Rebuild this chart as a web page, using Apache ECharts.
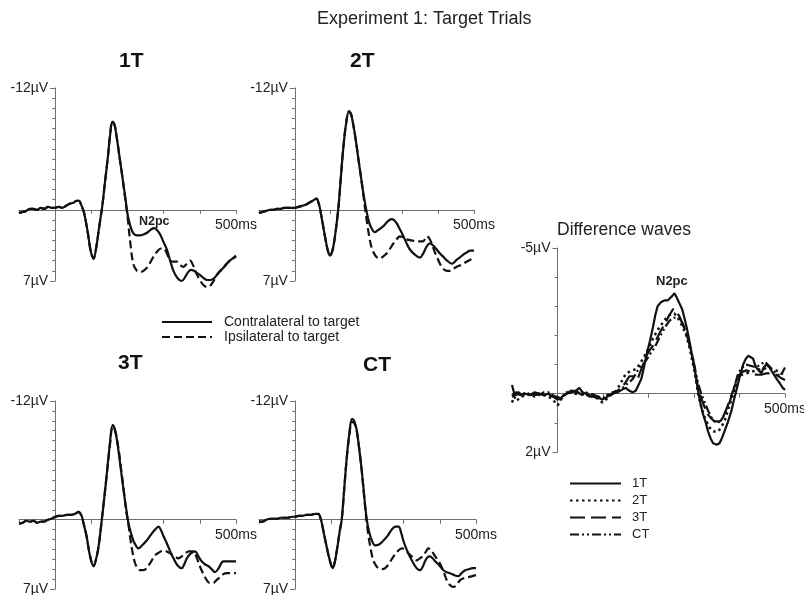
<!DOCTYPE html>
<html>
<head>
<meta charset="utf-8">
<script src="https://cdn.jsdelivr.net/npm/echarts@6/dist/echarts.min.js"></script>
<style>html,body{margin:0;padding:0;background:#fff;}#c{width:804px;height:595px;}</style>
</head>
<body>
<div id="c"></div>
<script>
// ---------- data ----------
const panelNames = ['1T', '2T', '3T', 'CT'];
const waveNames = ['Contralateral to target', 'Ipsilateral to target'];
const diffNames = ['1T', '2T', '3T', 'CT'];
const timeRange = [-100, 500];          // ms
const panelVoltRange = [-12, 7];        // µV (negative up)
const diffVoltRange = [-5, 2];          // µV (negative up)
const timeUnit = 'ms';
const voltUnit = 'µV';

const contra1T = [[-100,0.3],[-90,0.2],[-80,0.1],[-70,-0.1],[-60,-0.1],[-50,0.0],[-40,-0.2],[-30,-0.1],[-20,-0.3],[-10,-0.2],[0,-0.2],[10,-0.3],[20,-0.2],[30,-0.4],[40,-0.6],[50,-0.7],[60,-0.9],[66,-0.9],[72,-0.5],[80,0.3],[90,2.2],[98,4.0],[106,4.8],[114,3.6],[122,1.6],[130,-0.3],[138,-2.8],[146,-5.3],[152,-7.4],[158,-8.7],[164,-8.4],[170,-7.2],[178,-5.2],[186,-3.2],[194,-1.2],[200,0.4],[208,1.6],[216,2.3],[226,2.5],[236,2.5],[246,2.4],[256,2.2],[266,1.9],[274,1.8],[282,2.0],[290,2.4],[300,3.2],[309,3.9],[318,5.0],[327,6.0],[338,6.7],[350,7.0],[358,6.7],[368,6.1],[376,5.9],[384,6.0],[392,6.2],[400,6.4],[410,6.7],[420,6.9],[430,6.9],[440,6.7],[456,6.0],[468,5.6],[479,5.1],[490,4.8],[500,4.5]];
const ipsi1T = [[-100,0.3],[-90,0.2],[-80,0.1],[-70,-0.1],[-60,-0.1],[-50,0.0],[-40,-0.2],[-30,-0.1],[-20,-0.3],[-10,-0.2],[0,-0.2],[10,-0.3],[20,-0.2],[30,-0.4],[40,-0.6],[50,-0.7],[60,-0.9],[66,-0.9],[72,-0.5],[80,0.3],[90,2.2],[98,4.0],[106,4.8],[114,3.6],[122,1.6],[130,-0.3],[138,-2.8],[146,-5.3],[152,-7.4],[158,-8.7],[164,-8.4],[170,-7.2],[178,-5.2],[186,-3.2],[194,-1.0],[200,0.6],[207,3.0],[216,5.3],[226,6.0],[236,6.1],[244,6.0],[256,5.6],[264,5.1],[272,4.6],[282,4.1],[292,3.8],[300,3.8],[309,4.3],[318,5.0],[327,5.1],[336,5.1],[345,5.4],[354,5.6],[364,5.3],[373,5.0],[382,5.5],[391,6.3],[400,6.9],[410,7.4],[420,7.6],[428,7.5],[438,7.0],[447,6.4],[460,5.9],[474,5.3],[488,4.9],[500,4.6]];

const contra2T = [[-100,0.3],[-90,0.2],[-80,0.1],[-70,0.0],[-60,0.0],[-50,-0.1],[-40,-0.1],[-30,-0.2],[-20,-0.2],[-10,-0.2],[0,-0.2],[10,-0.3],[20,-0.4],[30,-0.5],[40,-0.7],[50,-0.9],[60,-1.1],[67,-0.6],[74,0.6],[84,2.6],[92,4.0],[98,4.5],[105,4.0],[112,2.6],[121,0.0],[128,-3.0],[135,-6.0],[143,-8.5],[151,-9.7],[157,-9.4],[163,-8.4],[170,-6.9],[177,-5.1],[184,-3.4],[191,-1.7],[200,0.1],[207,1.2],[214,1.8],[223,2.2],[232,2.0],[247,1.6],[260,1.1],[270,0.9],[277,1.0],[284,1.3],[293,1.9],[303,2.6],[312,3.3],[321,3.9],[335,4.4],[349,4.7],[358,4.3],[368,3.6],[377,3.3],[386,3.5],[396,3.9],[405,4.3],[414,4.6],[425,5.0],[438,5.3],[452,4.9],[460,4.7],[470,4.4],[480,4.2],[489,4.0],[500,4.0]];
const ipsi2T = [[-100,0.3],[-90,0.2],[-80,0.1],[-70,0.0],[-60,0.0],[-50,-0.1],[-40,-0.1],[-30,-0.2],[-20,-0.2],[-10,-0.2],[0,-0.2],[10,-0.3],[20,-0.4],[30,-0.5],[40,-0.7],[50,-0.9],[60,-1.1],[67,-0.6],[74,0.6],[84,2.6],[92,4.0],[98,4.5],[105,4.0],[112,2.6],[121,0.0],[128,-3.0],[135,-6.0],[143,-8.5],[151,-9.7],[157,-9.4],[163,-8.4],[170,-6.9],[177,-5.1],[184,-3.4],[191,-1.5],[200,0.9],[209,2.9],[216,3.9],[223,4.4],[230,4.7],[237,4.8],[246,4.6],[256,4.3],[266,3.8],[275,3.3],[284,2.9],[293,2.6],[302,2.7],[312,2.9],[326,3.0],[340,3.1],[350,3.1],[358,3.1],[364,2.8],[368,2.6],[375,2.8],[382,3.3],[389,4.0],[396,4.6],[405,5.3],[414,5.8],[424,6.0],[433,6.0],[442,5.8],[452,5.6],[465,5.4],[479,5.1],[490,4.9],[500,4.8]];

const contra3T = [[-100,0.4],[-90,0.3],[-80,0.1],[-70,0.2],[-60,0.1],[-50,0.3],[-40,0.2],[-32,0.2],[-20,0.0],[-10,-0.1],[0,-0.3],[10,-0.4],[20,-0.4],[32,-0.5],[45,-0.5],[55,-0.6],[65,-0.8],[70,-0.6],[74,-0.3],[80,0.6],[87,1.7],[96,3.6],[106,4.7],[113,4.0],[120,2.7],[129,0.0],[136,-2.3],[143,-4.7],[151,-7.6],[159,-9.6],[166,-9.0],[175,-7.0],[182,-5.0],[189,-3.0],[196,-1.2],[203,0.4],[210,1.4],[216,2.1],[223,2.6],[230,2.9],[240,2.6],[253,2.1],[265,1.5],[276,1.0],[286,0.7],[293,1.1],[300,1.7],[309,2.4],[318,3.2],[327,3.9],[338,4.6],[350,4.9],[357,4.5],[364,3.9],[375,3.4],[387,3.2],[396,3.7],[405,4.2],[414,4.5],[424,4.7],[433,5.0],[442,5.3],[452,4.9],[465,4.2],[480,4.2],[490,4.2],[500,4.2]];
const ipsi3T = [[-100,0.4],[-90,0.3],[-80,0.1],[-70,0.2],[-60,0.1],[-50,0.3],[-40,0.2],[-32,0.2],[-20,0.0],[-10,-0.1],[0,-0.3],[10,-0.4],[20,-0.4],[32,-0.5],[45,-0.5],[55,-0.6],[65,-0.8],[70,-0.6],[74,-0.3],[80,0.6],[87,1.7],[96,3.6],[106,4.7],[113,4.0],[120,2.7],[129,0.0],[136,-2.3],[143,-4.7],[151,-7.4],[159,-9.4],[166,-9.0],[175,-7.2],[182,-5.2],[189,-3.2],[196,-1.0],[203,0.6],[207,1.7],[214,3.3],[221,4.4],[228,4.9],[235,5.1],[244,5.1],[253,4.9],[264,4.3],[276,3.6],[288,3.3],[299,3.1],[308,3.2],[318,3.4],[330,3.7],[341,3.9],[350,3.7],[359,3.4],[370,3.2],[382,3.2],[391,3.8],[400,4.7],[410,5.5],[419,6.1],[428,6.4],[437,6.4],[446,6.1],[456,5.8],[465,5.5],[474,5.4],[487,5.4],[500,5.4]];

const contraCT = [[-100,0.2],[-90,0.2],[-80,0.0],[-70,-0.1],[-60,-0.1],[-50,-0.1],[-40,-0.2],[-30,-0.2],[-20,-0.2],[-10,-0.3],[0,-0.3],[10,-0.4],[20,-0.4],[32,-0.5],[45,-0.5],[55,-0.6],[64,-0.6],[69,-0.3],[74,0.4],[80,1.5],[87,2.7],[95,4.0],[104,4.9],[110,4.2],[117,2.7],[123,1.2],[129,-0.1],[136,-3.3],[143,-6.4],[150,-8.8],[157,-10.2],[163,-10.0],[170,-9.1],[177,-7.2],[184,-5.0],[191,-2.4],[198,0.0],[205,1.3],[212,2.1],[221,2.6],[232,2.5],[244,2.1],[256,1.6],[267,1.0],[277,0.7],[286,0.7],[293,1.3],[299,2.1],[308,3.0],[318,3.8],[327,4.4],[336,4.9],[345,5.1],[352,4.8],[359,4.2],[366,3.8],[373,3.7],[380,3.9],[387,4.2],[398,4.6],[410,5.1],[419,5.3],[428,5.4],[440,5.6],[451,5.7],[460,5.4],[470,5.1],[480,5.0],[490,4.9],[500,4.9]];
const ipsiCT = [[-100,0.2],[-90,0.2],[-80,0.0],[-70,-0.1],[-60,-0.1],[-50,-0.1],[-40,-0.2],[-30,-0.2],[-20,-0.2],[-10,-0.3],[0,-0.3],[10,-0.4],[20,-0.4],[32,-0.5],[45,-0.5],[55,-0.6],[64,-0.6],[69,-0.3],[74,0.4],[80,1.5],[87,2.7],[95,4.0],[104,4.9],[110,4.2],[117,2.7],[123,1.2],[129,-0.1],[136,-3.3],[143,-6.4],[150,-8.6],[157,-9.9],[163,-9.8],[170,-9.0],[177,-7.2],[184,-5.0],[191,-2.2],[198,0.3],[203,1.7],[210,3.2],[216,4.1],[223,4.6],[230,4.9],[240,5.0],[249,4.9],[260,4.4],[272,3.7],[283,3.2],[295,2.9],[304,3.0],[313,3.4],[325,3.8],[336,4.1],[345,3.9],[355,3.6],[362,3.2],[368,2.9],[375,3.0],[382,3.4],[391,3.9],[400,4.4],[410,5.2],[419,6.1],[428,6.6],[437,6.8],[446,6.6],[456,6.1],[467,5.9],[479,5.8],[490,5.7],[500,5.6]];

const diff1T = [[-100,-0.3],[-95,0.0],[-90,0.05],[-85,-0.05],[-80,0.05],[-70,0.0],[-60,0.05],[-50,-0.05],[-40,0.0],[-30,0.05],[-20,0.0],[-10,0.1],[0,0.1],[5,0.2],[10,0.1],[20,0.0],[30,-0.05],[40,-0.1],[48,-0.2],[55,-0.05],[62,0.0],[70,0.1],[80,0.1],[90,0.15],[99,0.2],[110,0.1],[121,0.0],[132,-0.05],[143,-0.15],[150,-0.2],[158,-0.1],[165,-0.05],[172,-0.1],[178,-0.3],[184,-0.5],[190,-0.9],[195,-1.3],[203,-1.8],[210,-2.3],[215,-2.7],[220,-3.0],[228,-3.15],[235,-3.2],[242,-3.2],[246,-3.25],[252,-3.35],[257,-3.45],[262,-3.3],[268,-3.1],[274,-2.9],[279,-2.6],[285,-2.2],[290,-1.8],[296,-1.3],[301,-0.9],[305,-0.5],[309,-0.1],[315,0.4],[320,0.7],[326,1.0],[331,1.3],[337,1.55],[342,1.7],[350,1.75],[356,1.7],[362,1.5],[368,1.25],[375,0.95],[382,0.6],[388,0.2],[393,-0.1],[400,-0.55],[408,-1.0],[414,-1.2],[419,-1.3],[425,-1.25],[430,-1.2],[434,-1.0],[437,-0.9],[442,-0.8],[448,-0.7],[453,-0.9],[459,-1.0],[466,-0.9],[474,-0.7],[482,-0.5],[489,-0.35],[495,-0.2],[500,-0.13]];
const diff2T = [[-100,0.3],[-95,0.1],[-90,0.25],[-80,0.1],[-70,0.05],[-60,0.0],[-50,0.1],[-40,0.0],[-30,0.05],[-20,0.1],[-10,0.2],[0,0.4],[5,0.3],[10,0.1],[20,0.0],[30,-0.05],[40,0.0],[50,0.05],[60,-0.05],[70,0.0],[80,0.05],[90,0.2],[99,0.3],[110,0.15],[121,0.0],[129,-0.1],[137,-0.3],[145,-0.55],[151,-0.7],[158,-0.75],[165,-0.8],[173,-0.85],[180,-1.0],[188,-1.2],[195,-1.4],[203,-1.65],[210,-1.9],[217,-2.1],[225,-2.3],[232,-2.45],[239,-2.6],[246,-2.7],[252,-2.75],[257,-2.75],[263,-2.65],[268,-2.5],[275,-2.3],[283,-2.0],[290,-1.6],[298,-1.0],[303,-0.6],[309,0.0],[316,0.45],[323,0.8],[330,1.05],[338,1.25],[345,1.3],[353,1.3],[360,1.15],[368,0.9],[375,0.55],[382,0.2],[390,-0.15],[397,-0.5],[405,-0.65],[415,-0.7],[425,-0.75],[437,-0.8],[448,-0.85],[459,-0.87],[470,-0.85],[481,-0.8],[490,-0.7],[500,-0.65]];
const diff3T = [[-100,0.1],[-90,0.0],[-80,0.05],[-70,-0.05],[-60,0.05],[-50,0.0],[-40,0.05],[-30,-0.05],[-20,0.05],[-10,0.1],[0,0.2],[10,0.15],[20,0.0],[30,-0.1],[40,-0.1],[50,0.0],[60,0.05],[70,0.05],[80,0.1],[90,0.15],[99,0.1],[110,0.05],[121,0.0],[132,-0.1],[143,-0.25],[150,-0.4],[158,-0.6],[165,-0.6],[171,-0.55],[176,-0.5],[182,-0.75],[188,-1.0],[195,-1.3],[203,-1.5],[210,-1.65],[217,-1.85],[225,-2.1],[232,-2.3],[239,-2.5],[246,-2.7],[254,-2.9],[260,-2.85],[268,-2.65],[275,-2.4],[283,-2.1],[290,-1.7],[298,-1.15],[303,-0.7],[309,-0.2],[316,0.15],[323,0.45],[330,0.7],[338,0.85],[345,0.95],[349,1.0],[356,0.95],[364,0.8],[372,0.5],[379,0.2],[388,-0.2],[397,-0.6],[406,-0.75],[415,-0.8],[426,-0.75],[437,-0.65],[448,-0.65],[459,-0.7],[470,-0.7],[481,-0.65],[490,-0.55],[500,-0.47]];
const diffCT = [[-100,0.05],[-90,-0.05],[-80,0.0],[-70,0.05],[-60,-0.05],[-50,0.05],[-40,0.0],[-30,0.0],[-20,-0.05],[-10,0.05],[0,0.15],[10,0.1],[20,-0.05],[30,-0.1],[40,-0.05],[50,0.0],[60,0.05],[70,0.0],[80,0.05],[90,0.1],[99,0.15],[110,0.05],[121,-0.05],[132,-0.1],[143,-0.2],[150,-0.3],[158,-0.4],[165,-0.5],[173,-0.7],[180,-0.9],[188,-1.0],[195,-1.15],[203,-1.35],[210,-1.5],[217,-1.7],[225,-1.95],[232,-2.15],[239,-2.35],[246,-2.5],[254,-2.6],[261,-2.62],[268,-2.6],[275,-2.4],[283,-2.1],[290,-1.7],[298,-1.2],[303,-0.8],[309,-0.35],[316,0.0],[323,0.27],[330,0.55],[338,0.8],[345,0.95],[353,1.0],[360,0.9],[368,0.7],[375,0.45],[382,0.1],[390,-0.3],[397,-0.7],[406,-0.9],[415,-1.0],[426,-0.95],[437,-0.9],[446,-1.0],[456,-1.1],[465,-0.95],[474,-0.8],[482,-0.7],[489,-0.6],[495,-0.75],[500,-0.9]];

const panelContra = [contra1T, contra2T, contra3T, contraCT];
const panelIpsi = [ipsi1T, ipsi2T, ipsi3T, ipsiCT];
const diffData = [diff1T, diff2T, diff3T, diffCT];

// ---------- layout / style ----------
const FONT = 'Liberation Sans, Arial, sans-serif';
const INK = '#111';
const AXIS = '#6e6e6e';
const gridBoxes = [
  {left: 19, top: 88, width: 217, height: 193},
  {left: 259, top: 88, width: 215, height: 193},
  {left: 19, top: 401, width: 217, height: 188},
  {left: 259, top: 401, width: 217, height: 188},
  {left: 512, top: 248, width: 273, height: 204}
];
const panelTitlePos = [[119, 51], [350, 51], [118, 353], [363, 355]];
const diffStyles = [
  {type: 'solid', width: 2.2},
  {type: [2.5, 3.5], width: 2.5},
  {type: [15, 6], width: 2.2},
  {type: [9, 3, 2, 3, 2, 3], width: 2.2}
];

const grid = gridBoxes.map(b => Object.assign({outerBoundsMode: 'none', containLabel: false}, b));

// axes sit on the zero of the other axis; shift them there with offsets
function makeX(i, vRange) {
  const b = gridBoxes[i];
  const zeroFromBottom = (vRange[1] - 0) / (vRange[1] - vRange[0]) * b.height;
  return {
    gridIndex: i, type: 'value', min: timeRange[0], max: timeRange[1], interval: 100,
    position: 'bottom', offset: -zeroFromBottom,
    splitLine: {show: false},
    axisLine: {onZero: false, lineStyle: {color: AXIS, width: 1}},
    axisTick: {show: true, length: 4, lineStyle: {color: AXIS}},
    axisLabel: {
      margin: 8, color: '#222', fontSize: 14, fontFamily: FONT,
      formatter: v => (v === timeRange[1] ? v + timeUnit : '')
    }
  };
}
function makeY(i, range) {
  const b = gridBoxes[i];
  const zeroFromLeft = (0 - timeRange[0]) / (timeRange[1] - timeRange[0]) * b.width;
  return {
    gridIndex: i, type: 'value', inverse: true, min: range[0], max: range[1],
    interval: range[1] - range[0],
    position: 'left', offset: -zeroFromLeft,
    splitLine: {show: false},
    axisLine: {onZero: false, lineStyle: {color: AXIS, width: 1}},
    axisTick: {show: true, length: 5, lineStyle: {color: AXIS}},
    minorTick: {show: true, splitNumber: range[1] - range[0], length: 3, lineStyle: {color: AXIS}},
    minorSplitLine: {show: false},
    axisLabel: {
      margin: 7, color: '#222', fontSize: 14, fontFamily: FONT,
      formatter: v => v + voltUnit
    }
  };
}

const xAxis = [], yAxis = [], series = [];
for (let i = 0; i < 4; i++) {
  xAxis.push(makeX(i, panelVoltRange));
  yAxis.push(makeY(i, panelVoltRange));
  series.push({
    name: waveNames[0], type: 'line', xAxisIndex: i, yAxisIndex: i,
    data: panelContra[i], showSymbol: false, symbol: 'none', smooth: 0.35, clip: false,
    lineStyle: {color: INK, width: 2.2, type: 'solid'}, itemStyle: {color: INK}, z: 3
  });
  series.push({
    name: waveNames[1], type: 'line', xAxisIndex: i, yAxisIndex: i,
    data: panelIpsi[i], showSymbol: false, symbol: 'none', smooth: 0.35, clip: false,
    lineStyle: {color: INK, width: 2.2, type: [8, 4]}, itemStyle: {color: INK}, z: 2
  });
}
xAxis.push(makeX(4, diffVoltRange));
yAxis.push(makeY(4, diffVoltRange));
for (let k = 0; k < 4; k++) {
  series.push({
    name: diffNames[k], type: 'line', xAxisIndex: 4, yAxisIndex: 4,
    data: diffData[k], showSymbol: false, symbol: 'none', clip: false,
    lineStyle: Object.assign({color: INK}, diffStyles[k]), itemStyle: {color: INK}
  });
}

const title = [
  {text: 'Experiment 1: Target Trials', left: 317, top: 10, padding: 0,
   textStyle: {fontFamily: FONT, fontSize: 18, fontWeight: 'normal', color: '#222'}},
  {text: 'Difference waves', left: 557, top: 221, padding: 0,
   textStyle: {fontFamily: FONT, fontSize: 17.5, fontWeight: 'normal', color: '#222'}},
  {text: 'N2pc', left: 139, top: 215, padding: 0,
   textStyle: {fontFamily: FONT, fontSize: 12.5, fontWeight: 'bold', color: '#222'}},
  {text: 'N2pc', left: 656, top: 275, padding: 0,
   textStyle: {fontFamily: FONT, fontSize: 13, fontWeight: 'bold', color: '#222'}}
];
panelNames.forEach((n, i) => title.push({
  text: n, left: panelTitlePos[i][0], top: panelTitlePos[i][1], padding: 0,
  textStyle: {fontFamily: FONT, fontSize: 21, fontWeight: 'bold', color: '#111'}
}));

const legendCommon = {
  orient: 'vertical', padding: 0, selectedMode: false,
  itemStyle: {opacity: 0}
};
const legend = [
  Object.assign({data: waveNames, left: 161, top: 315, itemWidth: 50, itemHeight: 14, itemGap: 1,
   textStyle: {fontFamily: FONT, fontSize: 14, color: '#222', padding: [0, 0, 0, 7]}}, legendCommon),
  Object.assign({data: diffNames, left: 569, top: 477, itemWidth: 51, itemHeight: 12, itemGap: 4,
   textStyle: {fontFamily: FONT, fontSize: 13, color: '#222', padding: [0, 0, 0, 6]}}, legendCommon)
];

const chart = echarts.init(document.getElementById('c'), null, {renderer: 'canvas'});
chart.setOption({
  animation: false,
  backgroundColor: '#fff',
  title, legend, grid, xAxis, yAxis, series
});
</script>
</body>
</html>
